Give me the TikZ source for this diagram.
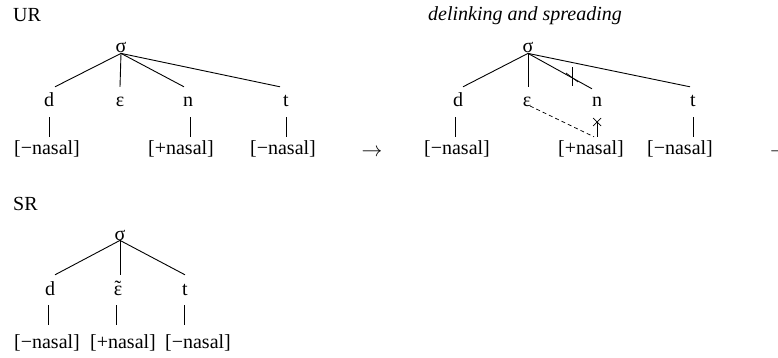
\documentclass[tikz,border=0pt]{standalone}
\usepackage{fontspec}
\setmainfont{Liberation Serif}
\begin{document}
\begin{tikzpicture}[x=1pt,y=-1pt,
  every node/.style={font=\fontsize{20}{23}\selectfont},
  lbl/.style={anchor=base west,inner sep=0},
  sig/.style={anchor=base,inner sep=0},
  seg/.style={anchor=base,text height=10pt,text depth=0pt,inner xsep=0,inner ysep=10pt},
  feat/.style={anchor=base,text height=12pt,text depth=4pt,inner xsep=0,inner ysep=5pt},
  featsr/.style={anchor=base,text height=12pt,text depth=4pt,inner xsep=0,inner ysep=11pt},
  ln/.style={line width=0.9pt},
  bar/.style={line width=0.7pt},
  arr/.style={anchor=base,inner sep=0}]
\useasboundingbox (0,0) rectangle (778,358);
% ---------- UR ----------
\node[lbl] (ur) at (13,21.5) {UR};
\node[sig] (s1) at (121,53) {σ};
\node[seg] (d1) at (49,107) {d};
\node[seg] (e1) at (120,107) {ε};
\node[seg] (n1) at (188,107) {n};
\node[seg] (t1) at (286,107) {t};
\node[feat] (f1) at (47,154) {[−nasal]};
\node[feat] (f2) at (181,154) {[+nasal]};
\node[feat] (f3) at (283,154) {[−nasal]};
\draw[ln] (s1.south) -- ([xshift=6pt]d1.north);
\draw[ln] (s1.south) -- (e1.north);
\draw[ln] (s1.south) -- ([xshift=-4pt]n1.north);
\draw[ln] (s1.south) -- ([xshift=-6pt]t1.north);
\draw[bar] (d1.south) -- (d1.south |- f1.north);
\draw[bar] ([xshift=2pt]n1.south) -- ([xshift=2pt]n1.south |- f2.north);
\draw[bar] (t1.south) -- (t1.south |- f3.north);
\node[arr] (a1) at (372,157) {$\rightarrow$};
% ---------- delinking and spreading ----------
\node[lbl] (dl) at (428,21) {\itshape delinking and spreading};
\node[sig] (s2) at (528,53) {σ};
\node[seg] (d2) at (458,107) {d};
\node[seg] (e2) at (527,107) {ε};
\node[seg] (n2) at (597,107) {n};
\node[seg] (t2) at (693,107) {t};
\node[feat] (g1) at (457,154) {[−nasal]};
\node[feat] (g2) at (591,154) {[+nasal]};
\node[feat] (g3) at (680,154) {[−nasal]};
\draw[ln] (s2.south) -- ([xshift=5pt]d2.north);
\draw[ln] (s2.south) -- ([xshift=1pt]e2.north);
\draw[ln] (s2.south) -- ([xshift=-5pt,yshift=-2pt]n2.north);
\draw[ln] (s2.south) -- ([xshift=-3pt]t2.north);
\draw[bar] ([xshift=-3pt]d2.south) -- ([xshift=-3pt]d2.south |- g1.north);
\draw[bar] ([yshift=-5pt]n2.south) coordinate (nb) -- (nb |- g2.north) coordinate (ne);
\draw[bar] (t2.south) -- (t2.south |- g3.north);
% delinking marks
\coordinate (x1) at (572,77);
\draw[bar] ([yshift=-9pt]x1) -- ([yshift=10pt]x1);
\draw[bar] ([xshift=-6pt,yshift=4pt]x1) -- ([xshift=6pt,yshift=-5pt]x1);
\coordinate (x2) at (597,122);
\draw[bar] ([xshift=-4pt,yshift=-4pt]x2) -- ([xshift=4pt,yshift=4pt]x2);
\draw[bar] ([xshift=-4pt,yshift=4pt]x2) -- ([xshift=4pt,yshift=-4pt]x2);
% spreading
\coordinate (sp) at (530,106);
\draw[bar,dashed,dash pattern=on 4pt off 3pt] (sp) -- ([xshift=-3pt]ne);
\node[arr,anchor=base west] (a2) at (770,157) {$\rightarrow$};
% ---------- SR ----------
\node[lbl] (sr) at (13,210) {SR};
\node[sig] (s3) at (120,240) {σ};
\node[seg] (d3) at (50,295) {d};
\node[seg] (e3) at (118,295) {\ooalign{ε\cr\hidewidth\raisebox{0.02em}{˜}\hidewidth\cr}};
\node[seg] (t3) at (185,295) {t};
\node[featsr] (h1) at (47,348) {[−nasal]};
\node[featsr] (h2) at (123,348) {[+nasal]};
\node[featsr] (h3) at (198,348) {[−nasal]};
\draw[ln] (s3.south) -- ([xshift=5pt]d3.north);
\draw[ln] (s3.south) -- ([xshift=2pt]e3.north);
\draw[ln] (s3.south) -- (t3.north);
\draw[bar] ([xshift=-2pt]d3.south) -- ([xshift=-2pt]d3.south |- h1.north);
\draw[bar] ([xshift=-2pt]e3.south) -- ([xshift=-2pt]e3.south |- h2.north);
\draw[bar] ([xshift=-1pt]t3.south) -- ([xshift=-1pt]t3.south |- h3.north);
\end{tikzpicture}
\end{document}
